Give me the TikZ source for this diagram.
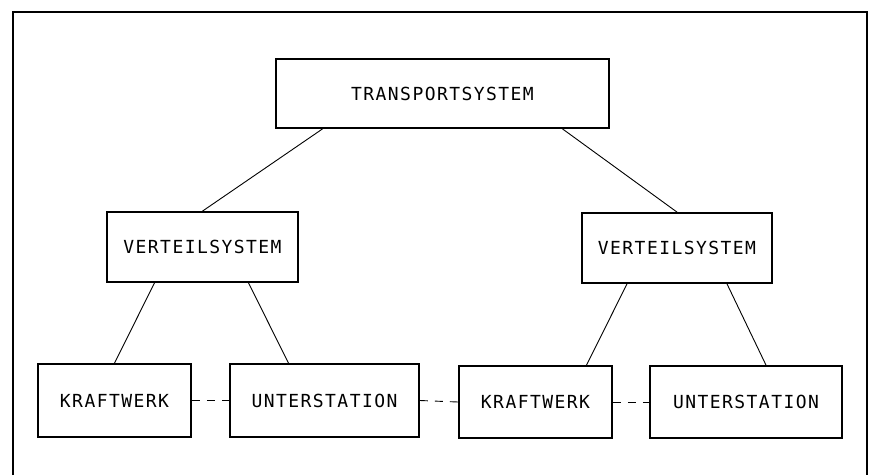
\documentclass[tikz,border=0pt]{standalone}
\usepackage{fontspec}
\newfontfamily\boxfont[LetterSpace=8]{DejaVu Sans Mono}
\usetikzlibrary{calc}

\begin{document}
\begin{tikzpicture}[x=1pt,y=-1pt,
        block/.style={draw,line width=1.8pt,inner sep=0pt,font={\boxfont\fontsize{18}{18}\selectfont}},
        link/.style={line width=0.9pt},
        tie/.style={line width=0.9pt,dash pattern=on 8pt off 7pt}]
                \useasboundingbox (0,0) rectangle (875,475);
                \draw[line width=2.5pt] (13,475)--(13,12)--(867,12)--(867,475);
                \node[block,minimum width=333pt,minimum height=69pt] (trans) at (442.5,93.5) {TRANSPORTSYSTEM};
                \node[block,minimum width=191pt,minimum height=70pt] (vl) at (202.5,247) {VERTEILSYSTEM};
                \node[block,minimum width=190pt,minimum height=70pt] (vr) at (677,248) {VERTEILSYSTEM};
                \node[block,minimum width=153pt,minimum height=73pt] (kl) at (114.5,400.5) {KRAFTWERK};
                \node[block,minimum width=189pt,minimum height=73pt] (ul) at (324.5,400.5) {UNTERSTATION};
                \node[block,minimum width=153pt,minimum height=72pt] (kr) at (535.5,402) {KRAFTWERK};
                \node[block,minimum width=192pt,minimum height=72pt] (ur) at (746,402) {UNTERSTATION};
                \draw[link] ([xshift=-120pt]trans.south)--(vl.north);
                \draw[link] ([xshift=120pt]trans.south)--(vr.north);
                \draw[link] ([xshift=-48pt]vl.south)--(kl.north);
                \draw[link] ([xshift=46pt]vl.south)--([xshift=-36pt]ul.north);
                \draw[link] ([xshift=-50pt]vr.south)--([xshift=51pt]kr.north);
                \draw[link] ([xshift=50pt]vr.south)--([xshift=20pt]ur.north);
                \draw[tie] (kl.east)--(ul.west);
                \draw[tie] (ul.east)--(kr.west);
                \draw[tie] (kr.east)--(ur.west);
            \end{tikzpicture}
\end{document}
